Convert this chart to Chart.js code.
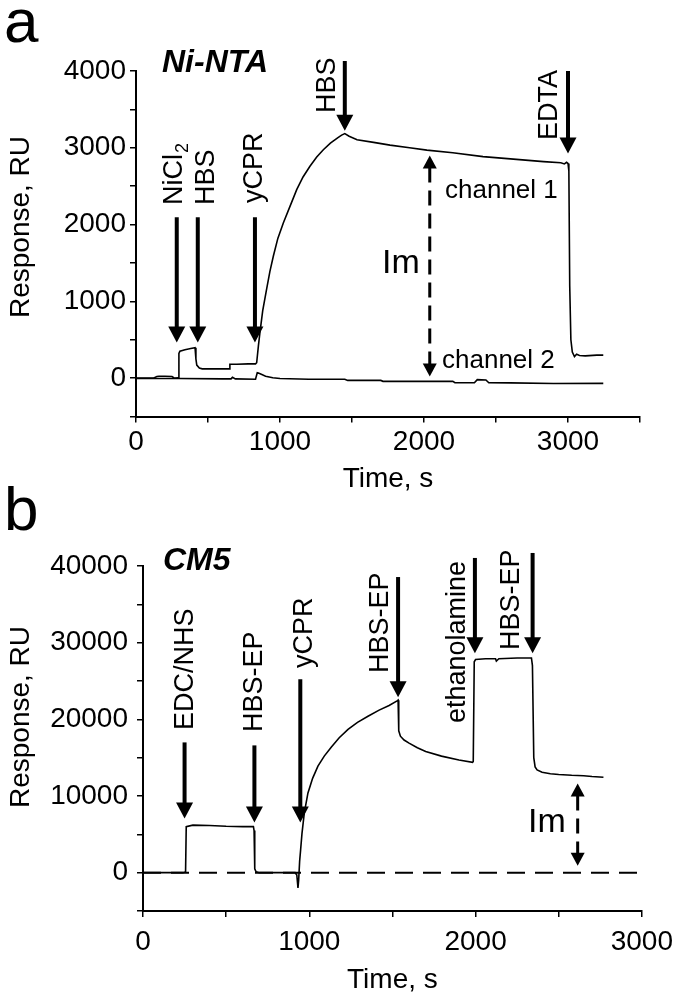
<!DOCTYPE html>
<html lang="en">
<head>
<meta charset="UTF-8">
<title>Sensorgrams</title>
<script src="https://cdn.jsdelivr.net/npm/chart.js@4.4.1/dist/chart.umd.min.js"></script>
<style>
  body { margin: 0; background: #fff; }
  #wrap { position: relative; width: 681px; height: 1001px; }
  canvas { position: absolute; left: 0; }
  #chartA { top: 0; }
  #chartB { top: 470px; }
</style>
</head>
<body>
<div id="wrap">
  <canvas id="chartA" width="681" height="500"></canvas>
  <canvas id="chartB" width="681" height="531"></canvas>
</div>
<script>
// ---- panel a, Ni-NTA chip ----
var timeA1 = [0, 60, 120, 145, 160, 200, 250, 262, 275, 292, 298, 305, 340, 380, 410, 416, 422, 440, 460, 550, 648, 652, 700, 780, 830, 838, 850, 861, 880, 907, 930, 954, 985, 1023, 1070, 1116, 1160, 1208, 1255, 1301, 1350, 1400, 1428, 1450, 1480, 1535, 1650, 1764, 1900, 2020, 2200, 2410, 2600, 2830, 2950, 2975, 2990, 3000, 3006, 3012, 3020, 3030, 3045, 3060, 3080, 3120, 3200, 3245];
var respA1 = [0, 0, 0, 20, 25, 25, 20, 5, 0, 5, 320, 350, 370, 385, 395, 250, 170, 130, 120, 120, 120, 180, 180, 185, 185, 200, 420, 600, 880, 1160, 1390, 1590, 1820, 2020, 2240, 2455, 2620, 2760, 2880, 2975, 3060, 3130, 3165, 3185, 3150, 3105, 3070, 3035, 3000, 2970, 2935, 2885, 2855, 2820, 2805, 2790, 2810, 2795, 2700, 1200, 500, 340, 280, 310, 295, 290, 300, 300];
var timeA2 = [0, 300, 600, 660, 670, 690, 830, 842, 850, 870, 900, 950, 1000, 1200, 1450, 1470, 1700, 1715, 2200, 2215, 2350, 2370, 2430, 2450, 2600, 2900, 3245];
var respA2 = [-5, -5, -10, -10, 10, -10, -15, 70, 65, 50, 25, 5, -5, -15, -15, -30, -30, -42, -42, -60, -60, -20, -25, -60, -62, -70, -68];
var xLabelsA = [0, 1000, 2000, 3000];
var yLabelsA = [0, 1000, 2000, 3000, 4000];
var injNamesA = ['NiCl', 'HBS', 'yCPR', 'HBS', 'EDTA'];
var injTimesA = [283, 429, 826, 1450, 3000];

// ---- panel b, CM5 chip ----
var timeB = [0, 120, 240, 256, 260, 300, 400, 500, 600, 664, 668, 672, 680, 700, 800, 915, 925, 932, 936, 942, 948, 956, 970, 992, 1020, 1052, 1090, 1133, 1180, 1233, 1290, 1353, 1420, 1480, 1528, 1534, 1538, 1548, 1570, 1600, 1650, 1700, 1795, 1900, 1982, 1986, 1992, 2000, 2060, 2120, 2125, 2140, 2250, 2336, 2342, 2350, 2358, 2370, 2400, 2450, 2500, 2578, 2650, 2700, 2769];
var respB = [0, 0, 0, 100, 6000, 6200, 6150, 6050, 6000, 6000, 5500, 500, 100, 0, 0, 0, -300, -2000, -1000, 1500, 3000, 5100, 7800, 10400, 12300, 13900, 15200, 16400, 17600, 18700, 19600, 20400, 21200, 21800, 22400, 22500, 18500, 17800, 17300, 16900, 16300, 15800, 15200, 14700, 14400, 14500, 27500, 27800, 27900, 27900, 27600, 27900, 28000, 28000, 27000, 15000, 13800, 13400, 13100, 12900, 12800, 12700, 12650, 12550, 12450];
var timeBase = [0, 3000];
var respBase = [0, 0];
var xLabelsB = [0, 1000, 2000, 3000];
var yLabelsB = [0, 10000, 20000, 30000, 40000];
var injNamesB = ['EDC/NHS', 'HBS-EP', 'yCPR', 'HBS-EP', 'ethanolamine', 'HBS-EP'];
var injTimesB = [250, 670, 946, 1534, 1996, 2343];

var FONT = '"Liberation Sans", Arial, Helvetica, sans-serif';
Chart.defaults.font.family = FONT;
Chart.defaults.color = '#000';

function pts(xs, ys) {
    var out = [];
    for (var i = 0; i < xs.length; i++) out.push({x: xs[i], y: ys[i]});
    return out;
}

// arrow layout (data units for the ends, canvas pixels for the text)
var notes = {
    chartA: {
        letter: ['a', 4, 42], chip: ['Ni-NTA', 162, 72], yTitle: [21, 227],
        names: injNamesA, times: injTimesA, sub: ['2', '', '', '', ''],
        tails: [2095, 2095, 2095, 4130, 4000],
        tips: [464, 464, 464, 3223, 2925],
        labelDx: [5, 16, 7, -10, -11],
        labelBottom: [205, 205, 203, 113, 140],
        im: {t: 2040, top: 2899, bottom: 20, tx: 382, ty: 273, dash: [15, 8]},
        texts: [['channel 1', 445, 198], ['channel 2', 442, 368]]
    },
    chartB: {
        letter: ['b', 4, 60], chip: ['CM5', 163, 100], yTitle: [21, 247],
        names: injNamesB, times: injTimesB, sub: ['', '', '', '', '', ''],
        tails: [16990, 16600, 25230, 38560, 41050, 41700],
        tips: [7060, 6540, 6540, 22880, 28630, 28630],
        labelDx: [8, 8, 12, -10, -10, -14],
        labelBottom: [260, 262, 198, 203, 253, 180],
        im: {t: 2614, top: 11630, bottom: 915, tx: 528, ty: 362, dash: [15, 8]},
        texts: []
    }
};

function arrowHead(ctx, x, y, dir, w, len) {
    ctx.beginPath();
    ctx.moveTo(x, y);
    ctx.lineTo(x - w / 2, y - dir * len);
    ctx.lineTo(x + w / 2, y - dir * len);
    ctx.closePath();
    ctx.fill();
}

var notesPlugin = {
    id: 'notes',
    afterDatasetsDraw: function (chart) {
        var n = notes[chart.canvas.id];
        var ctx = chart.ctx, sx = chart.scales.x, sy = chart.scales.y;
        ctx.save();
        ctx.fillStyle = '#000';
        ctx.strokeStyle = '#000';
        ctx.textAlign = 'left';
        ctx.textBaseline = 'alphabetic';

        ctx.font = '62px ' + FONT;
        ctx.fillText(n.letter[0], n.letter[1], n.letter[2]);
        ctx.font = 'italic bold 32px ' + FONT;
        ctx.fillText(n.chip[0], n.chip[1], n.chip[2]);

        // y axis title
        ctx.save();
        ctx.translate(n.yTitle[0], n.yTitle[1]);
        ctx.rotate(-Math.PI / 2);
        ctx.font = '28px ' + FONT;
        ctx.textAlign = 'center';
        ctx.textBaseline = 'middle';
        ctx.fillText('Response, RU', 0, 0);
        ctx.restore();

        // injection arrows
        for (var i = 0; i < n.names.length; i++) {
            var x = sx.getPixelForValue(n.times[i]);
            var y0 = sy.getPixelForValue(n.tails[i]);
            var y1 = sy.getPixelForValue(n.tips[i]);
            ctx.lineWidth = 4;
            ctx.beginPath();
            ctx.moveTo(x, y0);
            ctx.lineTo(x, y1 - 10);
            ctx.stroke();
            arrowHead(ctx, x, y1, 1, 17, 16);

            ctx.save();
            ctx.translate(x + n.labelDx[i], n.labelBottom[i]);
            ctx.rotate(-Math.PI / 2);
            ctx.font = '27px ' + FONT;
            ctx.fillText(n.names[i], 0, 0);
            if (n.sub[i]) {
                var w = ctx.measureText(n.names[i]).width;
                ctx.font = '18px ' + FONT;
                ctx.fillText(n.sub[i], w + 1, 6);
            }
            ctx.restore();
        }

        // Im double arrow
        var ix = sx.getPixelForValue(n.im.t);
        var iy0 = sy.getPixelForValue(n.im.top);
        var iy1 = sy.getPixelForValue(n.im.bottom);
        ctx.lineWidth = 3;
        ctx.setLineDash(n.im.dash);
        ctx.beginPath();
        ctx.moveTo(ix, iy0 + 12);
        ctx.lineTo(ix, iy1 - 12);
        ctx.stroke();
        ctx.setLineDash([]);
        arrowHead(ctx, ix, iy0, -1, 14, 13);
        arrowHead(ctx, ix, iy1, 1, 14, 13);
        ctx.font = '34px ' + FONT;
        ctx.fillText('Im', n.im.tx, n.im.ty);

        ctx.font = '26px ' + FONT;
        n.texts.forEach(function (t) { ctx.fillText(t[0], t[1], t[2]); });
        ctx.restore();
    }
};

function axisOpts(min, max, step, labels, tickPad, fitSize, isX) {
    return {
        type: 'linear',
        min: min,
        max: max,
        border: {display: true, color: '#000', width: 2},
        grid: {drawOnChartArea: false, drawTicks: true, tickLength: 6, color: '#000', lineWidth: 1.5},
        ticks: {
            stepSize: step,
            autoSkip: false,
            maxRotation: 0,
            padding: tickPad,
            font: {size: 28},
            color: '#000',
            callback: function (v) { return labels.indexOf(v) >= 0 ? String(v) : ''; }
        },
        title: isX ? {display: true, text: 'Time, s', font: {size: 28}, color: '#000', padding: {top: 0, bottom: 4}} : {display: false},
        afterFit: function (scale) {
            if (isX) scale.height = fitSize; else scale.width = fitSize;
        }
    };
}

function lineSet(data, dash) {
    return {
        data: data,
        showLine: true,
        borderColor: '#000',
        borderWidth: dash ? 2 : 1.6,
        borderDash: dash || [],
        pointRadius: 0,
        tension: 0,
        fill: false
    };
}

var chartA = new Chart(document.getElementById('chartA').getContext('2d'), {
    type: 'scatter',
    data: {
        datasets: [
            lineSet(pts(timeA1, respA1)),
            lineSet(pts(timeA2, respA2))
        ]
    },
    options: {
        responsive: false,
        animation: false,
        devicePixelRatio: 1,
        layout: {padding: {left: 0, top: 71, right: 41, bottom: 0}},
        plugins: {legend: {display: false}, tooltip: {enabled: false}},
        scales: {
            x: axisOpts(0, 3500, 500, xLabelsA, 3, 83.5, true),
            y: axisOpts(-500, 4000, 500, yLabelsA, 4, 136, false)
        }
    },
    plugins: [notesPlugin]
});

var chartB = new Chart(document.getElementById('chartB').getContext('2d'), {
    type: 'scatter',
    data: {
        datasets: [
            lineSet(pts(timeBase, respBase), [18, 10]),
            lineSet(pts(timeB, respB))
        ]
    },
    options: {
        responsive: false,
        animation: false,
        devicePixelRatio: 1,
        layout: {padding: {left: 0, top: 96, right: 38, bottom: 0}},
        plugins: {legend: {display: false}, tooltip: {enabled: false}},
        scales: {
            x: axisOpts(0, 3000, 500, xLabelsB, 8, 90, true),
            y: axisOpts(-5000, 40000, 5000, yLabelsB, 9, 143, false)
        }
    },
    plugins: [notesPlugin]
});
</script>
</body>
</html>
